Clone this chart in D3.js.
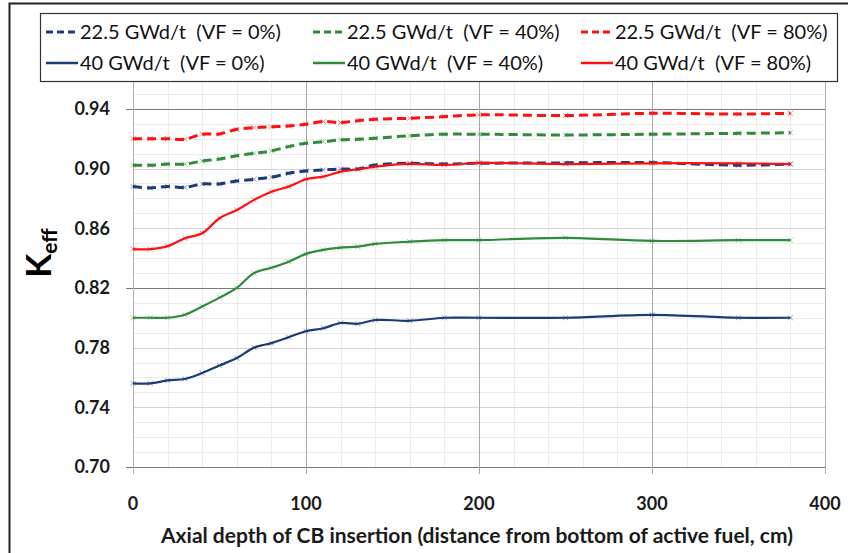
<!DOCTYPE html>
<html>
<head>
<meta charset="utf-8">
<script src="https://cdn.jsdelivr.net/npm/d3@7"></script>
<style>
  body { margin: 0; background: #fff; }
  svg { display: block; font-family: Lato, "Open Sans", sans-serif; }
</style>
</head>
<body>
<script>

// axial depth of CB insertion (cm)
const depths = [0, 10, 20, 30, 40, 50, 60, 70, 80, 90, 100, 110, 120, 130, 140, 160, 180, 200, 250, 300, 350, 380];

// Keff, 22.5 GWd/t
const keff22_vf0  = [0.888, 0.887, 0.888, 0.8873, 0.8897, 0.8897, 0.8917, 0.8928, 0.8942, 0.8968, 0.8984, 0.899, 0.8997, 0.8997, 0.9024, 0.9035, 0.903, 0.9035, 0.9038, 0.904, 0.9022, 0.903];
const keff22_vf40 = [0.9022, 0.9022, 0.903, 0.903, 0.905, 0.9064, 0.9086, 0.9102, 0.9118, 0.9147, 0.917, 0.918, 0.9192, 0.9196, 0.9203, 0.922, 0.923, 0.923, 0.9225, 0.923, 0.9236, 0.924];
const keff22_vf80 = [0.920, 0.920, 0.920, 0.9196, 0.923, 0.9232, 0.9263, 0.9274, 0.928, 0.9285, 0.9297, 0.9315, 0.9308, 0.9321, 0.933, 0.9337, 0.9348, 0.936, 0.9355, 0.937, 0.9365, 0.937];

// Keff, 40 GWd/t
const keff40_vf0  = [0.756, 0.756, 0.758, 0.759, 0.763, 0.768, 0.773, 0.780, 0.783, 0.787, 0.791, 0.793, 0.7965, 0.796, 0.7985, 0.798, 0.800, 0.800, 0.800, 0.802, 0.800, 0.800];
const keff40_vf40 = [0.800, 0.800, 0.800, 0.802, 0.8075, 0.8135, 0.820, 0.830, 0.8335, 0.8376, 0.8428, 0.8455, 0.847, 0.8477, 0.8495, 0.851, 0.852, 0.852, 0.8535, 0.8515, 0.852, 0.852];
const keff40_vf80 = [0.846, 0.846, 0.848, 0.8533, 0.8566, 0.8667, 0.8722, 0.879, 0.8845, 0.8879, 0.8928, 0.8946, 0.8979, 0.8995, 0.9013, 0.9031, 0.9024, 0.9038, 0.903, 0.9035, 0.9035, 0.903];

const seriesNames = [
    "22.5 GWd/t  (VF = 0%)", "22.5 GWd/t  (VF = 40%)", "22.5 GWd/t  (VF = 80%)",
    "40 GWd/t  (VF = 0%)", "40 GWd/t  (VF = 40%)", "40 GWd/t  (VF = 80%)"
];
const yTicks = [0.70, 0.74, 0.78, 0.82, 0.86, 0.90, 0.94];
const xTicks = [0, 100, 200, 300, 400];

const colors = ["#1b3a78", "#2f8a3c", "#ff1010", "#1b3a78", "#2f8a3c", "#ff1010"];

const series = [keff22_vf0, keff22_vf40, keff22_vf80, keff40_vf0, keff40_vf40, keff40_vf80]
    .map((vals, i) => ({
        name: seriesNames[i],
        color: colors[i],
        dashed: i < 3,
        values: vals.map((v, j) => ({x: depths[j], y: v}))
    }));

const width = 848;
const height = 553;
const marginLeft = 133;
const marginRight = 23;
const marginTop = 79;
const marginBottom = 86;

const x = d3.scaleLinear()
    .domain([0, 400])
    .range([marginLeft, width - marginRight]);

const y = d3.scaleLinear()
    .domain([0.70, 0.96])
    .range([height - marginBottom, marginTop]);

const svg = d3.select("body").append("svg")
    .attr("width", width)
    .attr("height", height);

svg.append("rect").attr("width", width).attr("height", height).attr("fill", "#fff");

// outer frame
svg.append("rect")
    .attr("x", 9.5).attr("y", 3.5)
    .attr("width", width + 20).attr("height", height + 20)
    .attr("fill", "none").attr("stroke", "#222").attr("stroke-width", 2);

const x0 = x(0), x1 = x(400), yTop = y(0.96), yBot = y(0.70);

// minor gridlines
const grid = svg.append("g");
grid.selectAll(".hmin")
    .data(d3.range(71, 96).map(d => d / 100))
    .join("line")
    .attr("x1", x0).attr("x2", x1)
    .attr("y1", d => Math.round(y(d)) + 0.5).attr("y2", d => Math.round(y(d)) + 0.5)
    .attr("stroke", "#ececec");
grid.selectAll(".vmin")
    .data(d3.range(20, 400, 20))
    .join("line")
    .attr("y1", yTop).attr("y2", yBot)
    .attr("x1", d => Math.round(x(d)) + 0.5).attr("x2", d => Math.round(x(d)) + 0.5)
    .attr("stroke", "#ececec");

// labelled gridlines
grid.selectAll(".hmaj")
    .data(yTicks)
    .join("line")
    .attr("x1", d => ([0.70, 0.82, 0.94].includes(d) ? x0 - 7 : x0)).attr("x2", x1)
    .attr("y1", d => Math.round(y(d)) + 0.5).attr("y2", d => Math.round(y(d)) + 0.5)
    .attr("stroke", d => ([0.70, 0.82, 0.94].includes(d) ? "#7a7a7a" : "#d4d4d4"));
grid.selectAll(".vmaj")
    .data(xTicks)
    .join("line")
    .attr("y1", yTop).attr("y2", yBot + 7)
    .attr("x1", d => Math.round(x(d)) + 0.5).attr("x2", d => Math.round(x(d)) + 0.5)
    .attr("stroke", d => (d === 0 || d === 400 ? "#b0b0b0" : "#a8a8a8"));

// tick labels
svg.append("g")
    .selectAll("text")
    .data(yTicks)
    .join("text")
    .attr("x", 110)
    .attr("y", d => y(d))
    .attr("dy", "0.35em")
    .attr("text-anchor", "end")
    .attr("font-size", 18)
    .attr("font-weight", "bold")
    .attr("fill", "#1a1a1a")
    .text(d => d3.format(".2f")(d));

svg.append("g")
    .selectAll("text")
    .data(xTicks)
    .join("text")
    .attr("x", d => x(d))
    .attr("y", 510)
    .attr("text-anchor", "middle")
    .attr("font-size", 18)
    .attr("font-weight", "bold")
    .attr("fill", "#1a1a1a")
    .text(d => d);

// axis titles
svg.append("text")
    .attr("x", 477)
    .attr("y", 543)
    .attr("text-anchor", "middle")
    .attr("font-size", 21)
    .attr("font-weight", "bold")
    .attr("fill", "#1a1a1a")
    .text("Axial depth of CB insertion (distance from bottom of active fuel, cm)");

const yTitle = svg.append("text")
    .attr("transform", "translate(51,253) rotate(-90)")
    .attr("text-anchor", "middle")
    .attr("font-weight", "bold")
    .attr("fill", "#000");
yTitle.append("tspan").attr("font-size", 35).text("K");
yTitle.append("tspan").attr("font-size", 21).attr("dy", 6).text("eff");

// lines
const line = d3.line()
    .x(d => x(d.x))
    .y(d => y(d.y))
    .curve(d3.curveCatmullRom.alpha(0.5));

const lines = svg.append("g").attr("fill", "none").attr("stroke-linejoin", "round");

lines.selectAll("path")
    .data(series)
    .join("path")
    .attr("stroke", d => d.color)
    .attr("stroke-width", d => d.dashed ? 3 : 2.2)
    .attr("stroke-dasharray", d => d.dashed ? "9,5" : null)
    .attr("d", d => line(d.values));

// small x markers
const markers = svg.append("g");
series.forEach(s => {
    markers.append("g")
        .selectAll("path")
        .data(s.values)
        .join("path")
        .attr("transform", d => `translate(${x(d.x)},${y(d.y)})`)
        .attr("d", "M-2.5,-2.5L2.5,2.5M-2.5,2.5L2.5,-2.5")
        .attr("stroke", s.color)
        .attr("stroke-opacity", 0.5)
        .attr("stroke-width", 1);
});

// legend
const legend = svg.append("g");
legend.append("rect")
    .attr("x", 40.5).attr("y", 13.5)
    .attr("width", 797).attr("height", 68)
    .attr("fill", "#fff").attr("stroke", "#333").attr("stroke-width", 1.2);

const legendCols = [46, 313, 581];
const legendRows = [32, 63];

series.forEach((s, i) => {
    const lx = legendCols[i % 3];
    const ly = legendRows[Math.floor(i / 3)];
    const g = legend.append("g").attr("transform", `translate(${lx},${ly})`);
    g.append("line")
        .attr("x1", 0).attr("x2", 32)
        .attr("stroke", s.color)
        .attr("stroke-width", s.dashed ? 3 : 2.5)
        .attr("stroke-dasharray", s.dashed ? "7,4" : null);
    g.append("text")
        .attr("x", 34)
        .attr("dy", "0.36em")
        .attr("font-size", 20)
        .attr("fill", "#111")
        .attr("xml:space", "preserve")
        .style("white-space", "pre")
        .text(s.name);
});

</script>
</body>
</html>
